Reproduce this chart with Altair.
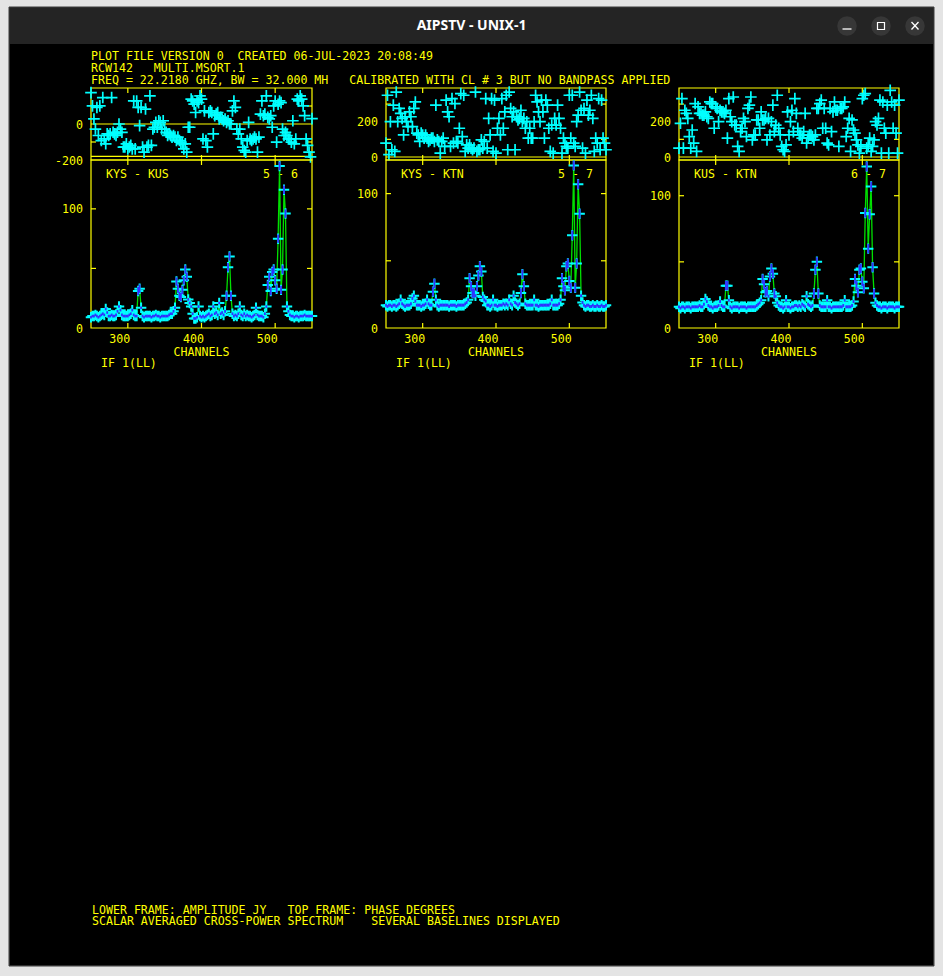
import altair as alt
import pandas as pd

W, H = 943, 976

# ---------------- data ----------------
CHANNELS = list(range(250, 551, 2))

P1_AMP = [9, 10, 10, 11, 10, 9, 10, 11, 12, 11,
          16, 13, 10, 10, 11, 10, 10, 11, 14, 18,
          15, 11, 10, 10, 10, 10, 11, 12, 15, 11,
          10, 10, 31, 33, 17, 10, 9, 10, 10, 10,
          10, 9, 10, 10, 11, 10, 10, 9, 10, 10,
          10, 10, 10, 11, 12, 12, 14, 17, 39, 33,
          27, 26, 32, 40, 49, 43, 24, 21, 18, 12,
          8, 8, 9, 18, 10, 9, 10, 9, 10, 11,
          12, 10, 11, 18, 12, 13, 11, 21, 12, 13,
          11, 14, 27, 51, 60, 27, 12, 10, 11, 10,
          12, 18, 11, 10, 12, 10, 11, 10, 10, 9,
          10, 11, 17, 11, 10, 10, 10, 9, 12, 18,
          36, 43, 31, 47, 49, 40, 33, 75, 136, 32,
          49, 116, 96, 18, 14, 11, 10, 10, 9, 10,
          10, 9, 10, 10, 10, 11, 10, 10, 10, 10, 10]
P2_AMP = [17, 16, 17, 17, 16, 17, 17, 16, 17, 18,
          21, 18, 17, 16, 17, 17, 17, 18, 22, 24,
          20, 17, 17, 17, 16, 17, 17, 18, 21, 18,
          17, 17, 27, 33, 21, 17, 16, 17, 17, 17,
          17, 17, 17, 16, 17, 17, 17, 17, 16, 17,
          17, 17, 17, 17, 18, 19, 21, 37, 31, 26,
          26, 24, 31, 39, 46, 42, 23, 21, 20, 17,
          17, 16, 17, 21, 17, 17, 16, 17, 17, 17,
          18, 17, 18, 17, 21, 18, 17, 24, 19, 18,
          17, 18, 26, 40, 31, 18, 17, 17, 17, 17,
          17, 21, 17, 17, 16, 17, 17, 17, 17, 17,
          17, 17, 18, 21, 17, 17, 17, 17, 18, 21,
          37, 31, 28, 46, 48, 35, 30, 69, 121, 30,
          48, 107, 85, 24, 19, 17, 16, 17, 17, 16,
          16, 17, 16, 16, 17, 16, 16, 17, 16, 16, 17]
P3_AMP = [16, 15, 16, 16, 15, 16, 16, 16, 15, 16,
          16, 16, 16, 16, 17, 16, 16, 18, 22, 20,
          17, 16, 16, 15, 16, 16, 16, 17, 20, 17,
          16, 16, 32, 32, 21, 16, 15, 16, 16, 16,
          16, 15, 16, 16, 16, 16, 15, 16, 16, 16,
          16, 16, 16, 17, 18, 19, 21, 37, 33, 27,
          28, 24, 39, 45, 41, 26, 24, 19, 17, 16,
          16, 15, 16, 21, 16, 16, 15, 16, 16, 17,
          17, 16, 17, 16, 18, 17, 16, 24, 18, 17,
          16, 17, 26, 44, 50, 26, 17, 16, 16, 16,
          16, 21, 16, 16, 15, 16, 16, 16, 16, 16,
          16, 16, 17, 21, 16, 16, 16, 16, 17, 20,
          37, 32, 27, 44, 45, 35, 30, 87, 122, 60,
          86, 107, 46, 26, 19, 17, 16, 16, 15, 16,
          16, 16, 15, 16, 16, 16, 16, 15, 16, 16, 16]

P1_PHASE = [174, 101, 28, -28, 92, -64, 101, -92, 147, -83,
            -110, -55, -64, -55, 147, -46, -55, -64, -46, 0,
            -28, -46, -128, -128, -110, -138, -128, -119, -138, 128,
            -138, 128, 92, -9, 92, -128, -156, 83, -128, -119,
            156, -119, -28, -18, 9, -18, 18, 9, -28, 18,
            -28, -46, -64, -55, -64, -73, -64, -73, -92, -73,
            -92, -101, -110, -138, -110, -156, -18, -18, 138, 128,
            110, 64, 128, 119, 156, 138, -83, 73, -92, -128,
            64, 73, 64, -55, 46, 55, 64, 28, 37, 28,
            18, 28, 9, 18, 0, 0, 73, 128, 92, -28,
            -55, -28, -83, -128, -147, -156, -92, 9, -83, -92,
            -83, -73, -83, -156, -73, 55, 128, 46, 55, 156,
            37, 28, 46, -18, 101, 128, -101, 110, 128, 119,
            -28, -64, -46, -64, -83, -83, -101, 18, -110, -83,
            138, 128, 156, 138, 101, 46, -83, -119, -156, -183, 30]
P2_PHASE = [79, 350, 13, 200, 41, 294, 32, 368, 200, 275,
            247, 219, 125, 228, 200, 172, 256, 228, 172, 275,
            312, 135, 125, 88, 135, 125, 107, 125, 107, 88,
            97, 107, 107, 88, 294, 97, 88, 22, 88, 107,
            60, 322, 256, 228, 60, 331, 79, 303, 88, 79,
            163, 359, 116, 350, 32, 69, 50, 69, 50, 41,
            50, 368, 32, 41, 41, 97, 50, 88, 331, 50,
            219, 125, 331, 32, 322, 22, 163, 219, 125, 331,
            163, 256, 350, 41, 368, 275, 228, 256, 41, 228,
            210, 219, 265, 200, 219, 163, 200, 107, 163, 107,
            107, 200, 350, 312, 256, 200, 322, 256, 107, 322,
            294, 163, 32, 181, 22, 219, 181, 294, 219, 163,
            22, 107, 79, 60, 50, 350, 107, 350, 79, 60,
            200, 237, 368, 265, 50, 275, 22, 322, 237, 265,
            350, 219, 32, 107, 79, 331, 41, 322, 107, 79, 41]
P3_PHASE = [50, 191, 331, 50, 265, 247, 219, 116, 50, 153,
            79, 303, 32, 284, 247, 247, 237, 237, 256, 228,
            219, 312, 303, 303, 163, 284, 275, 200, 265, 256,
            256, 247, 265, 107, 331, 228, 200, 340, 181, 181,
            60, 32, 144, 163, 219, 200, 116, 275, 294, 340,
            97, 125, 125, 210, 210, 163, 256, 210, 210, 219,
            97, 219, 125, 200, 294, 144, 181, 350, 163, 125,
            60, 41, 32, 69, 256, 125, 200, 265, 144, 331,
            247, 163, 125, 125, 107, 144, 247, 79, 107, 125,
            125, 116, 97, 125, 275, 275, 303, 322, 163, 275,
            163, 79, 69, 275, 144, 256, 312, 265, 265, 60,
            275, 275, 284, 312, 116, 163, 219, 32, 210, 153,
            135, 97, 69, 22, 60, 331, 350, 359, 50, 69,
            107, 32, 60, 97, 200, 181, 219, 322, 22, 312,
            163, 135, 294, 22, 378, 312, 163, 294, 135, 22, 322]

AMPS = [P1_AMP, P2_AMP, P3_AMP]
PHASES = [P1_PHASE, P2_PHASE, P3_PHASE]
BASELINES = ["KYS - KUS", "KYS - KTN", "KUS - KTN"]
ANTENNA_PAIRS = ["5 - 6", "5 - 7", "6 - 7"]
AMP_DOMAINS = [[0, 141], [0, 125], [0, 127]]
PHASE_DOMAINS = [[-200, 200], [-17, 391], [-17, 391]]
AMP_LABELS = [0, 100]
AMP_TICKS = [50, 100]
PHASE_LABELS = [[0, -200], [0, 200], [0, 200]]
PHASE_TICKS = [[-100, 100], [100, 300], [100, 300]]
PHASE_LINES = [[0, -180], [0], [0]]
CH_TICKS = [300, 400, 500]
CH_LABELS = [300, 400, 500]
IF_LABEL = "IF 1(LL)"
X_TITLE = "CHANNELS"
HEADER = ["PLOT FILE VERSION 0  CREATED 06-JUL-2023 20:08:49",
          "RCW142   MULTI.MSORT.1",
          "FREQ = 22.2180 GHZ, BW = 32.000 MH   CALIBRATED WITH CL # 3 BUT NO BANDPASS APPLIED"]
FOOTER = ["LOWER FRAME: AMPLITUDE JY   TOP FRAME: PHASE DEGREES",
          "SCALAR AVERAGED CROSS-POWER SPECTRUM    SEVERAL BASELINES DISPLAYED"]
WINDOW_TITLE = "AIPSTV - UNIX-1"

# ---------------- layout & style ----------------
PANEL_X = [(91, 312), (386, 606), (679, 899)]
PH_TOP, PH_BOT = 88, 160
AMP_TOP, AMP_BOT = 160, 328
TICK = 5
YEL = "#ffff00"
CYAN = "#00ffff"
GREEN = "#00e000"
BLUE = "#3030ff"
MONO = "DejaVu Sans Mono"
FS = 11.6
TDY = 1.5          # optical centring of the monospace glyphs
CROSS = "M-1,0L1,0M0,-1L0,1"
ONE = pd.DataFrame({"k": [0]})
NBSP = "\u00a0"


def box(x1, x2, y1, y2, fill=None, stroke=None, sw=1.0):
    kw = {}
    if fill is None:
        kw["fillOpacity"] = 0
    else:
        kw["fill"] = fill
    if stroke is not None:
        kw["stroke"] = stroke
        kw["strokeWidth"] = sw
    return alt.Chart(ONE).mark_rect(**kw).encode(
        x=alt.value(x1), x2=alt.value(x2), y=alt.value(y1), y2=alt.value(y2))


def label(s, x, y, color=YEL, size=FS, font=MONO, weight="normal", align="left", dy=TDY):
    return alt.Chart(ONE).mark_text(
        text=s.replace(" ", NBSP), color=color, fontSize=size, font=font, fontWeight=weight,
        align=align, baseline="middle", dy=dy).encode(x=alt.value(x), y=alt.value(y))


def seg(x1, y1, x2, y2, color, sw):
    return alt.Chart(ONE).mark_rule(color=color, strokeWidth=sw).encode(
        x=alt.value(x1), y=alt.value(y1), x2=alt.value(x2), y2=alt.value(y2))


def dot(x, y):
    return alt.Chart(ONE).mark_circle(color="#373737", size=380, opacity=1).encode(
        x=alt.value(x), y=alt.value(y))


chrome = [
    box(9, 934, 7, 966, "#242424", "#3c3c3c", 1),
    box(10, 933, 44, 965, "#000000"),
    label(WINDOW_TITLE, 471.5, 26, color="#ffffff", size=14, font="Noto Sans",
          weight="bold", align="center", dy=0),
    dot(847, 26), dot(881, 26), dot(915, 26),
    seg(842.5, 29, 851.5, 29, "#ffffff", 1.3),
    box(877.5, 884.5, 22.5, 29.5, None, "#ffffff", 1.2),
    seg(911.5, 22, 918.5, 29.5, "#ffffff", 1.3),
    seg(911.5, 29.5, 918.5, 22, "#ffffff", 1.3),
]
texts = [label(s, 91, y) for s, y in zip(HEADER, [55.5, 67.5, 79.5])]
texts += [label(s, 92, y) for s, y in zip(FOOTER, [909, 920.5])]


def rules_x(xs, y1, y2):
    d = pd.DataFrame({"t": CH_TICKS})
    return alt.Chart(d).mark_rule(color=YEL, strokeWidth=1.2).encode(
        x=alt.X("t:Q", scale=xs, axis=None), y=alt.value(y1), y2=alt.value(y2))


def rules_y(vals, ys, x1, x2):
    d = pd.DataFrame({"t": vals})
    return alt.Chart(d).mark_rule(color=YEL, strokeWidth=1.2).encode(
        y=alt.Y("t:Q", scale=ys, axis=None), x=alt.value(x1), x2=alt.value(x2))


def ylabels(vals, ys, x):
    d = pd.DataFrame({"t": vals, "s": [str(v) for v in vals]})
    return alt.Chart(d).mark_text(
        color=YEL, font=MONO, fontSize=FS, align="right", baseline="middle", dy=TDY).encode(
        y=alt.Y("t:Q", scale=ys, axis=None), x=alt.value(x), text="s:N")


def xlabels(xs, y):
    d = pd.DataFrame({"t": CH_LABELS, "s": [str(v) for v in CH_LABELS]})
    return alt.Chart(d).mark_text(
        color=YEL, font=MONO, fontSize=FS, align="center", baseline="middle",
        dx=-8, dy=TDY).encode(
        x=alt.X("t:Q", scale=xs, axis=None), y=alt.value(y), text="s:N")


def panel(i):
    x0, x1 = PANEL_X[i]
    c0, c1 = CHANNELS[0], CHANNELS[-1]
    xs = alt.Scale(domain=[c0, c1], range=[x0, x1], nice=False, zero=False)
    ya = alt.Scale(domain=AMP_DOMAINS[i], range=[AMP_BOT, AMP_TOP], nice=False, zero=False)
    yp = alt.Scale(domain=PHASE_DOMAINS[i], range=[PH_BOT, PH_TOP], nice=False, zero=False)
    df = pd.DataFrame({"ch": CHANNELS, "amp": AMPS[i], "ph": PHASES[i]})

    # ---- phase frame ----
    frp = pd.DataFrame({"a": [c0], "b": [c1], "lo": [PHASE_DOMAINS[i][0]],
                        "hi": [PHASE_DOMAINS[i][1]]})
    frame_p = alt.Chart(frp).mark_rect(fillOpacity=0, stroke=YEL, strokeWidth=1.2).encode(
        x=alt.X("a:Q", scale=xs, axis=None), x2="b:Q",
        y=alt.Y("lo:Q", scale=yp, axis=None), y2="hi:Q")
    pl = pd.DataFrame({"v": PHASE_LINES[i], "a": c0, "b": c1})
    lines_p = alt.Chart(pl).mark_rule(color=YEL, strokeWidth=1.2).encode(
        x=alt.X("a:Q", scale=xs, axis=None), x2="b:Q",
        y=alt.Y("v:Q", scale=yp, axis=None))
    pts_p = alt.Chart(df).mark_point(
        shape=CROSS, size=135, filled=False, color=CYAN, strokeWidth=1.7, opacity=1).encode(
        x=alt.X("ch:Q", scale=xs, axis=None),
        y=alt.Y("ph:Q", scale=yp, axis=None))
    phase_layer = alt.layer(
        frame_p, lines_p,
        rules_x(xs, PH_TOP, PH_TOP + TICK), rules_x(xs, PH_BOT, PH_BOT - TICK),
        rules_y(PHASE_TICKS[i], yp, x0, x0 + TICK), rules_y(PHASE_TICKS[i], yp, x1 - TICK, x1),
        ylabels(PHASE_LABELS[i], yp, x0 - 8),
        pts_p)

    # ---- amplitude frame ----
    fra = pd.DataFrame({"a": [c0], "b": [c1], "lo": [AMP_DOMAINS[i][0]],
                        "hi": [AMP_DOMAINS[i][1]]})
    frame_a = alt.Chart(fra).mark_rect(fillOpacity=0, stroke=YEL, strokeWidth=1.2).encode(
        x=alt.X("a:Q", scale=xs, axis=None), x2="b:Q",
        y=alt.Y("lo:Q", scale=ya, axis=None), y2="hi:Q")
    green = alt.Chart(df).mark_line(color=GREEN, strokeWidth=1.3).encode(
        x=alt.X("ch:Q", scale=xs, axis=None), y=alt.Y("amp:Q", scale=ya, axis=None))
    pts_a = alt.Chart(df).mark_point(
        shape=CROSS, size=110, filled=False, color=CYAN, strokeWidth=2, opacity=1).encode(
        x=alt.X("ch:Q", scale=xs, axis=None),
        y=alt.Y("amp:Q", scale=ya, axis=None))
    err = alt.Chart(df).transform_calculate(
        e="datum.amp > 25 ? 3.5 : 1.1").transform_calculate(
        lo="datum.amp - datum.e", hi="datum.amp + datum.e").mark_rule(
        color=BLUE, strokeWidth=1.8).encode(
        x=alt.X("ch:Q", scale=xs, axis=None),
        y=alt.Y("lo:Q", scale=ya, axis=None), y2="hi:Q")
    amp_layer = alt.layer(
        label(BASELINES[i], x0 + 15, 173), label(ANTENNA_PAIRS[i], x0 + 172, 173),
        label(IF_LABEL, x0 + 10, 362),
        label(X_TITLE, (x0 + x1) / 2, 351, align="center"),
        frame_a,
        rules_x(xs, AMP_TOP, AMP_TOP + TICK), rules_x(xs, AMP_BOT, AMP_BOT - TICK),
        rules_y(AMP_TICKS, ya, x0, x0 + TICK), rules_y(AMP_TICKS, ya, x1 - TICK, x1),
        ylabels(AMP_LABELS, ya, x0 - 8), xlabels(xs, 338.5),
        green, pts_a, err)
    return [phase_layer, amp_layer]


panels = []
for i in range(3):
    panels += panel(i)

chart = alt.layer(*chrome, *texts, *panels).resolve_scale(
    x="independent", y="independent"
).properties(
    width=W, height=H, padding=0,
    autosize=alt.AutoSizeParams(type="none"),
    background="#e4e4e4",
).configure_view(strokeWidth=0)

chart.save("out.html", embed_options={"renderer": "svg", "actions": False})
